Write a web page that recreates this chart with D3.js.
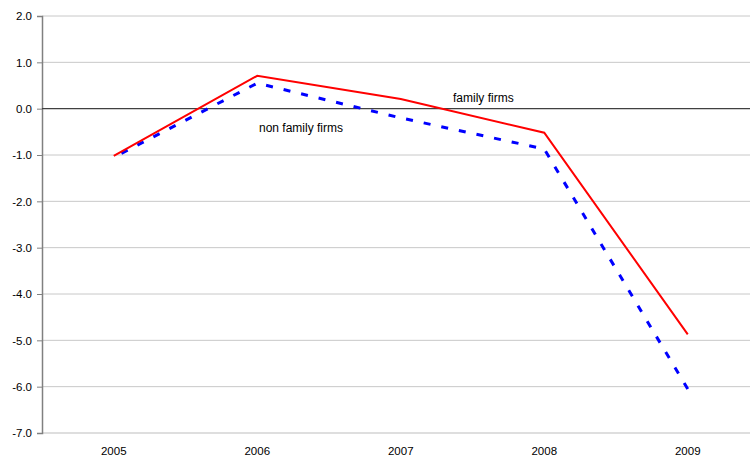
<!DOCTYPE html>
<html>
<head>
<meta charset="utf-8">
<script src="https://cdn.jsdelivr.net/npm/d3@7"></script>
<style>
  html, body { margin: 0; padding: 0; background: #fff; }
  svg { display: block; }
  text { font-family: "Liberation Sans", Arial, sans-serif; fill: #000; }
</style>
</head>
<body>
<svg id="chart" width="750" height="457"></svg>
<script>
// Yearly values for the two groups of firms
const years = ["2005", "2006", "2007", "2008", "2009"];
const familyFirms = [-1.02, 0.71, 0.21, -0.52, -4.87];
const nonFamilyFirms = [-1.05, 0.55, -0.20, -0.87, -6.05];
const yTicks = [2, 1, 0, -1, -2, -3, -4, -5, -6, -7];

const svg = d3.select("#chart");
const plotLeft = 42, plotRight = 759.5, plotTop = 16, plotBottom = 433;

const x = d3.scaleBand().domain(years).range([plotLeft, plotRight]);
const y = d3.scaleLinear().domain([-7, 2]).range([plotBottom, plotTop]);
const cx = d => x(d) + x.bandwidth() / 2;
// one decimal, plain hyphen for negatives
const fmt = d => d.toFixed(1);

// horizontal gridlines
svg.append("g")
  .selectAll("line")
  .data(yTicks.filter(t => t !== 0 && t !== -7))
  .join("line")
  .attr("x1", plotLeft).attr("x2", plotRight)
  .attr("y1", d => y(d)).attr("y2", d => y(d))
  .attr("stroke", "#c8c8c8").attr("stroke-width", 1);

// bottom axis line
svg.append("line")
  .attr("x1", plotLeft).attr("x2", plotRight)
  .attr("y1", y(-7)).attr("y2", y(-7))
  .attr("stroke", "#bdbdbd").attr("stroke-width", 1);

// y axis
const yAxis = d3.axisLeft(y).tickValues(yTicks).tickFormat(fmt).tickSize(5).tickPadding(5);
const gy = svg.append("g").attr("transform", `translate(${plotLeft},0)`).call(yAxis);
gy.select(".domain").attr("stroke", "#808080").attr("stroke-width", 1.5);
gy.selectAll(".tick line").attr("stroke", "#808080");
gy.selectAll(".tick text").attr("font-size", 11.5).attr("fill", "#000")
  .style("font-family", "'Liberation Sans', Arial, sans-serif");

// x axis labels
const xAxis = d3.axisBottom(x).tickSize(0).tickPadding(14);
const gx = svg.append("g").attr("transform", `translate(0,${plotBottom})`).call(xAxis);
gx.select(".domain").remove();
gx.selectAll(".tick text").attr("font-size", 11.5).attr("fill", "#000")
  .style("font-family", "'Liberation Sans', Arial, sans-serif");

// zero line
svg.append("line")
  .attr("x1", plotLeft).attr("x2", plotRight)
  .attr("y1", y(0)).attr("y2", y(0))
  .attr("stroke", "#404040").attr("stroke-width", 1.2);

const line = d3.line().x((d, i) => cx(years[i])).y(d => y(d));

// non family firms: dashed blue, pattern shifted so the line ends on a dash
const dash = 7, gap = 11;
const blue = svg.append("path")
  .datum(nonFamilyFirms)
  .attr("d", line)
  .attr("fill", "none")
  .attr("stroke", "#0000ff")
  .attr("stroke-width", 3)
  .attr("stroke-dasharray", `${dash},${gap}`);
const len = blue.node().getTotalLength();
const period = dash + gap;
blue.attr("stroke-dashoffset", ((dash - len) % period + period) % period);

// family firms: solid red
svg.append("path")
  .datum(familyFirms)
  .attr("d", line)
  .attr("fill", "none")
  .attr("stroke", "#ff0000")
  .attr("stroke-width", 2);

// series labels
svg.append("text").attr("x", 453).attr("y", 102).attr("font-size", 12).text("family firms");
svg.append("text").attr("x", 259).attr("y", 132).attr("font-size", 12).text("non family firms");
</script>
</body>
</html>
